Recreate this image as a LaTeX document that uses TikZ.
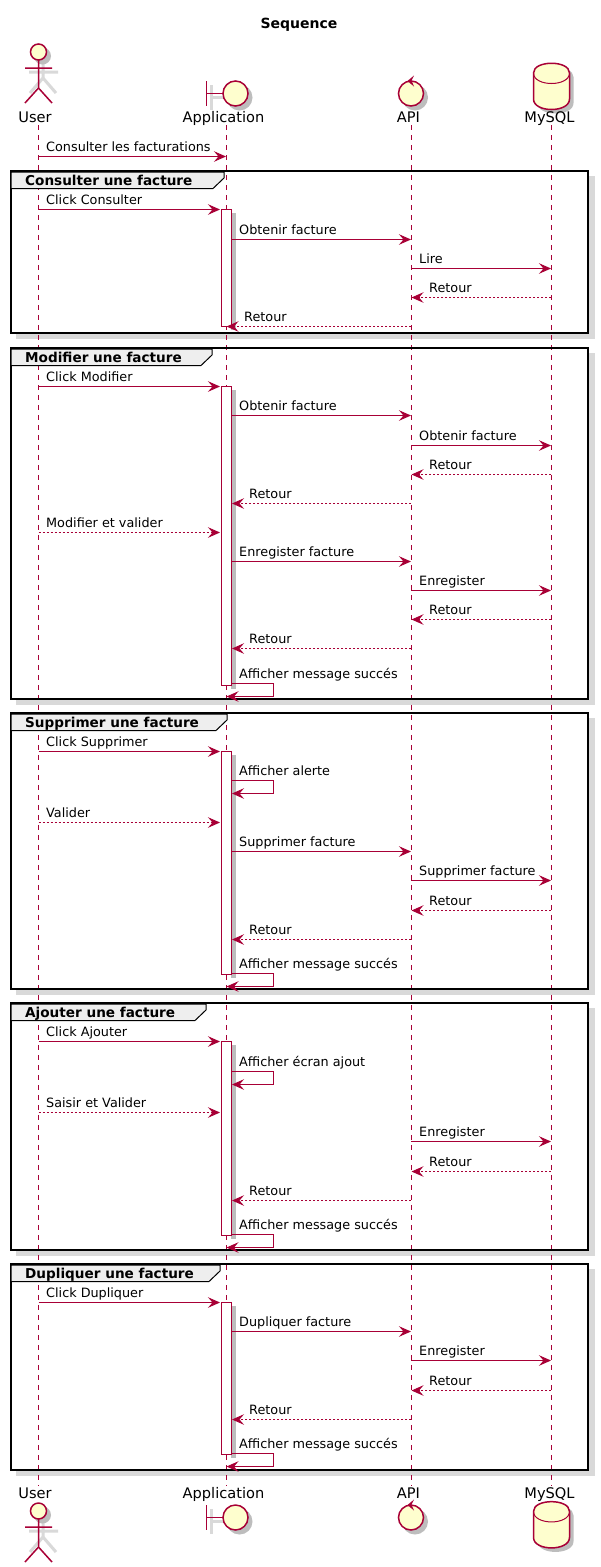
\documentclass[tikz,border=0pt]{standalone}
\usepackage{fontspec}
\setmainfont{DejaVu Sans}
\usetikzlibrary{arrows.meta}
\definecolor{pline}{HTML}{A80036}
\definecolor{pfill}{HTML}{FEFECE}
\definecolor{pshade}{HTML}{D9D9D9}
\definecolor{pshadedark}{HTML}{BDBDBD}
\definecolor{ptab}{HTML}{EEEEEE}
\tikzset{
  lifeline/.style={draw=pline,line width=0.9pt,dash pattern=on 5pt off 5pt},
  solidmsg/.style={draw=pline,line width=1pt,-{Stealth[length=12pt,width=10.5pt,inset=4.5pt,color=pline]}},
  dashmsg/.style={solidmsg,dash pattern=on 2pt off 2pt},
  msgtext/.style={anchor=base west,inner sep=0pt,font=\fontsize{12.8}{15}\selectfont,text=black},
  parttext/.style={anchor=base,inner sep=0pt,font=\fontsize{14.6}{16}\selectfont,text=black},
  grouptext/.style={anchor=base west,inner sep=0pt,font=\fontsize{13.6}{15}\selectfont\bfseries,text=black},
  framebox/.style={draw=black,line width=2pt},
  activebox/.style={draw=pline,fill=white,line width=1pt},
  pshape/.style={draw=pline,fill=pfill,line width=1.5pt},
}
% name, x1, x2, y, label, label x, style
\newcommand{\seqmsg}[7]{%
  \coordinate (#1a) at (#2,#4+0.5);
  \coordinate (#1b) at (#3,#4+0.5);
  \draw[#7] (#1a) -- (#1b);
  \node[msgtext] (#1t) at (#6,#4-4.2) {#5};
}
% name, y top, y bottom, end x, label
\newcommand{\selfmsg}[5]{%
  \coordinate (#1a) at (232,#2+0.5);
  \coordinate (#1b) at (#4,#3+0.5);
  \draw[solidmsg] (#1a) -- (273.5,#2+0.5) -- (273.5,#3+0.5) -- (#1b);
  \node[msgtext] (#1t) at (239,#2-4.5) {#5};
}
% y top, y bottom
\newcommand{\seqframe}[2]{%
  \fill[pshade] (16,#1+5) rectangle (595,#2+6);
  \fill[white] (12,#1+1) rectangle (588,#2-1);
}
% name, y top, y bottom, tab right x, label
\newcommand{\seqframetop}[5]{%
  \draw[framebox] (11,#2) rectangle (588,#3);
  \draw[line width=1pt,draw=black,fill=ptab] (11,#2+1) -- (#4,#2+1) -- (#4,#2+7) -- (#4-11,#2+17.5) -- (11,#2+17.5) -- cycle;
  \node[grouptext] (#1) at (25,#2+14) {#5};
}
\newcommand{\actbar}[2]{%
  \fill[pshadedark] (231,#1+4) rectangle (235.5,#2+4);
  \draw[activebox] (221.5,#1+0.5) rectangle (231.5,#2+0.5);
}
\newcommand{\actorshape}[1]{%
  \begin{scope}[shift={(0,#1)}]
    \draw[pshade,line width=3pt] (43,57) -- (43,78) (29,72) -- (58,72) (43,78) -- (30,93) (43,78) -- (56,93);
    \fill[pshadedark] (42.5,56) circle (8.5);
    \draw[pshape] (38.5,52) circle (8);
    \draw[pline,line width=1.5pt] (38.5,60) -- (38.5,88) (25,68) -- (52,68) (38.5,88) -- (25,103) (38.5,88) -- (52,103);
  \end{scope}
}
\newcommand{\boundaryshape}[1]{%
  \begin{scope}[shift={(0,#1)}]
    \draw[pshade,line width=3pt] (211,85) -- (211,110) (211,97.5) -- (228,97.5);
    \fill[pshadedark] (239.5,97.5) circle (13);
    \draw[pline,line width=1.5pt] (206.5,81) -- (206.5,106) (206.5,93.5) -- (223,93.5);
    \draw[pshape] (235.5,93.5) circle (12.5);
  \end{scope}
}
\newcommand{\controlshape}[1]{%
  \begin{scope}[shift={(0,#1)}]
    \fill[pshadedark] (415,97.5) circle (13);
    \draw[pshape] (411,93.5) circle (12.5);
    \fill[pline] (407.5,81) -- (414,75.5) -- (411.5,80.5) -- (414,86.5) -- cycle;
  \end{scope}
}
\newcommand{\dbshape}[1]{%
  \begin{scope}[shift={(0,#1)}]
    \fill[pshadedark] (537.5,77) .. controls (537.5,64) and (573.5,64) .. (573.5,77) -- (573.5,103) .. controls (573.5,117) and (537.5,117) .. (537.5,103) -- cycle;
    \draw[pshape] (533.5,73) .. controls (533.5,60) and (569.5,60) .. (569.5,73) -- (569.5,99) .. controls (569.5,113) and (533.5,113) .. (533.5,99) -- cycle;
    \draw[pline,line width=1pt] (533.5,73) .. controls (533.5,87) and (569.5,87) .. (569.5,73);
  \end{scope}
}
\begin{document}
\begin{tikzpicture}[x=1pt,y=-1pt]
\useasboundingbox[fill=white] (0,0) rectangle (601,1567);
\node[anchor=base,inner sep=0pt,font=\fontsize{14}{16}\selectfont\bfseries] (title) at (299,28) {Sequence};
% frame shadows
\seqframe{171}{333}
\seqframe{348}{699}
\seqframe{713}{989}
\seqframe{1003}{1250}
\seqframe{1264}{1470}
% participants
\actorshape{0}\actorshape{1459}
\boundaryshape{0}\boundaryshape{1424}
\controlshape{0}\controlshape{1424}
\dbshape{0}\dbshape{1438.4}
\node[parttext] (userA) at (35,122) {User};
\node[parttext] (appA) at (223.5,122) {Application};
\node[parttext] (apiA) at (408.5,122) {API};
\node[parttext] (dbA) at (549.5,122) {MySQL};
\node[parttext] (userB) at (35,1498) {User};
\node[parttext] (appB) at (223.5,1498) {Application};
\node[parttext] (apiB) at (408.5,1498) {API};
\node[parttext] (dbB) at (549.5,1498) {MySQL};
% lifelines
\coordinate (u1) at (38.5,125); \coordinate (u2) at (38.5,1486);
\coordinate (p1) at (226.5,125); \coordinate (p2) at (226.5,1486);
\coordinate (i1) at (411.5,125); \coordinate (i2) at (411.5,1486);
\coordinate (d1) at (551.5,125); \coordinate (d2) at (551.5,1486);
\draw[lifeline] (u1) -- (u2);
\draw[lifeline] (p1) -- (p2);
\draw[lifeline] (i1) -- (i2);
\draw[lifeline] (d1) -- (d2);
% frames
\seqframetop{f1}{171}{333}{224}{Consulter une facture}
\seqframetop{f2}{348}{699}{212}{Modifier une facture}
\seqframetop{f3}{713}{989}{227}{Supprimer une facture}
\seqframetop{f4}{1003}{1250}{206}{Ajouter une facture}
\seqframetop{f5}{1264}{1470}{220}{Dupliquer une facture}
% activations
\actbar{209}{326}
\actbar{386}{685}
\actbar{751}{974}
\actbar{1041}{1235}
\actbar{1302}{1454}
% messages
\seqmsg{m0}{38.5}{226}{156}{Consulter les facturations}{46}{solidmsg}
% frame 1
\seqmsg{a1}{38.5}{220}{209}{Click Consulter}{46}{solidmsg}
\seqmsg{a2}{232}{411}{239}{Obtenir facture}{239}{solidmsg}
\seqmsg{a3}{411}{551}{268}{Lire}{419}{solidmsg}
\seqmsg{a4}{551}{411.5}{297}{Retour}{429}{dashmsg}
\seqmsg{a5}{411}{226.5}{326}{Retour}{244}{dashmsg}
% frame 2
\seqmsg{b1}{38.5}{220}{386}{Click Modifier}{46}{solidmsg}
\seqmsg{b2}{232}{411}{415}{Obtenir facture}{239}{solidmsg}
\seqmsg{b3}{411}{551}{445}{Obtenir facture}{419}{solidmsg}
\seqmsg{b4}{551}{411.5}{474}{Retour}{429}{dashmsg}
\seqmsg{b5}{411}{232}{503}{Retour}{249}{dashmsg}
\seqmsg{b6}{38.5}{220}{532}{Modifier et valider}{46}{dashmsg}
\seqmsg{b7}{232}{411}{561}{Enregister facture}{239}{solidmsg}
\seqmsg{b8}{411}{551}{590}{Enregister}{419}{solidmsg}
\seqmsg{b9}{551}{411.5}{619}{Retour}{429}{dashmsg}
\seqmsg{b10}{411}{232}{648}{Retour}{249}{dashmsg}
\selfmsg{b11}{683}{696}{226.5}{Afficher message succés}
% frame 3
\seqmsg{c1}{38.5}{220}{751}{Click Supprimer}{46}{solidmsg}
\selfmsg{c2}{780}{793}{232}{Afficher alerte}
\seqmsg{c3}{38.5}{220}{822}{Valider}{46}{dashmsg}
\seqmsg{c4}{232}{411}{851}{Supprimer facture}{239}{solidmsg}
\seqmsg{c5}{411}{551}{880}{Supprimer facture}{419}{solidmsg}
\seqmsg{c6}{551}{411.5}{910}{Retour}{429}{dashmsg}
\seqmsg{c7}{411}{232}{939}{Retour}{249}{dashmsg}
\selfmsg{c8}{973}{986}{226.5}{Afficher message succés}
% frame 4
\seqmsg{e1}{38.5}{220}{1041}{Click Ajouter}{46}{solidmsg}
\selfmsg{e2}{1071}{1084}{232}{Afficher écran ajout}
\seqmsg{e3}{38.5}{220}{1112}{Saisir et Valider}{46}{dashmsg}
\seqmsg{e4}{411}{551}{1141}{Enregister}{419}{solidmsg}
\seqmsg{e5}{551}{411.5}{1171}{Retour}{429}{dashmsg}
\seqmsg{e6}{411}{232}{1200}{Retour}{249}{dashmsg}
\selfmsg{e7}{1234}{1247}{226.5}{Afficher message succés}
% frame 5
\seqmsg{g1}{38.5}{220}{1302}{Click Dupliquer}{46}{solidmsg}
\seqmsg{g2}{232}{411}{1331}{Dupliquer facture}{239}{solidmsg}
\seqmsg{g3}{411}{551}{1360}{Enregister}{419}{solidmsg}
\seqmsg{g4}{551}{411.5}{1390}{Retour}{429}{dashmsg}
\seqmsg{g5}{411}{232}{1419}{Retour}{249}{dashmsg}
\selfmsg{g6}{1453}{1466}{226.5}{Afficher message succés}
\end{tikzpicture}
\end{document}
